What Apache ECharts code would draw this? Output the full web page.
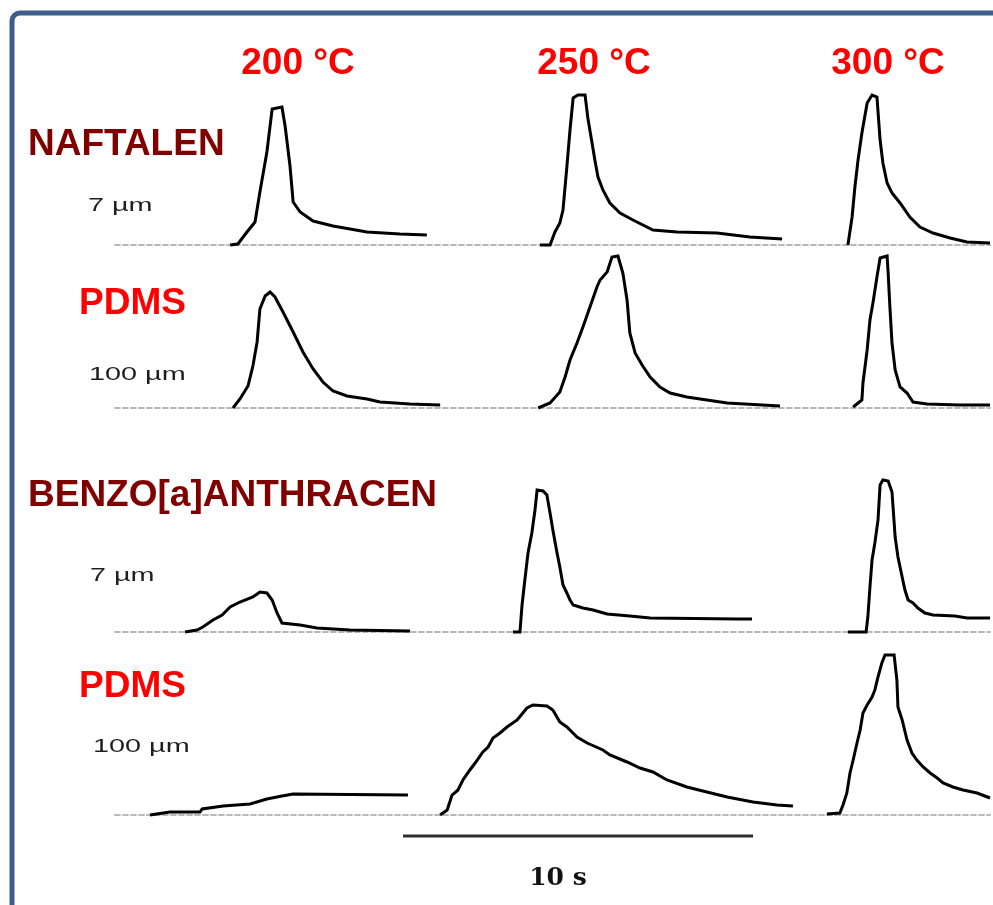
<!DOCTYPE html>
<html>
<head>
<meta charset="utf-8">
<script src="https://cdn.jsdelivr.net/npm/echarts@6/dist/echarts.min.js"></script>
<style>
  html, body { margin: 0; padding: 0; background: #ffffff; }
  #chart { width: 993px; height: 905px; }
</style>
</head>
<body>
<div id="chart"></div>
<script>
// Desorption peaks: time [s] vs. detector signal (relative units), one trace per temperature.
const temperatures = ['200 °C', '250 °C', '300 °C'];
const compounds = ['NAFTALEN', 'BENZO[a]ANTHRACEN'];
const fibres = ['PDMS', 'PDMS'];
const coatings = ['7 µm', '100 µm', '7 µm', '100 µm'];
const scaleBar = [8.23, 18.23];
const scaleBarLabel = '10 s';

// NAFTALEN, 7 µm fibre
const naftalen7um200 = [[3.29,0],[3.51,1],[3.77,13],[4.00,23],[4.14,53],[4.34,93],[4.49,136],[4.54,138],[4.77,138],[4.86,119],[5.00,79],[5.09,43],[5.29,33],[5.66,24],[6.23,19],[7.20,13],[8.14,11],[8.91,10]];
const naftalen7um250 = [[12.14,0],[12.43,0],[12.57,13],[12.71,22],[12.80,35],[12.91,78],[13.00,115],[13.09,147],[13.23,150],[13.43,150],[13.51,127],[13.63,102],[13.71,85],[13.80,68],[13.94,55],[14.14,42],[14.43,32],[14.80,25],[15.37,15],[16.06,13],[17.20,12],[18.14,8],[19.06,6]];
const naftalen7um300 = [[20.94,0],[21.06,28],[21.14,58],[21.23,85],[21.34,112],[21.49,142],[21.63,150],[21.77,148],[21.86,105],[21.94,82],[22.06,62],[22.20,52],[22.43,42],[22.71,28],[23.00,18],[23.37,12],[23.86,7],[24.34,3],[25.00,2]];

// NAFTALEN, 100 µm PDMS fibre
const naftalen100um200 = [[3.37,0],[3.57,9],[3.80,22],[3.94,42],[4.06,66],[4.14,99],[4.29,112],[4.43,116],[4.57,111],[4.80,96],[5.09,76],[5.37,56],[5.66,39],[5.94,26],[6.23,17],[6.63,12],[7.20,9],[7.57,6],[8.43,4],[9.29,3]];
const naftalen100um250 = [[12.09,0],[12.43,5],[12.71,16],[12.86,31],[13.00,48],[13.20,65],[13.37,81],[13.57,101],[13.77,121],[13.86,128],[14.06,136],[14.20,151],[14.37,152],[14.51,135],[14.63,108],[14.71,75],[14.86,55],[15.06,43],[15.29,31],[15.57,21],[15.86,15],[16.34,11],[16.91,8],[17.49,5],[19.00,2]];
const naftalen100um300 = [[21.09,1],[21.34,8],[21.37,25],[21.49,58],[21.57,88],[21.66,106],[21.77,131],[21.86,150],[22.06,152],[22.09,135],[22.14,101],[22.20,65],[22.29,38],[22.43,21],[22.63,15],[22.80,6],[23.20,4],[24.14,3],[25.00,3]];

// BENZO[a]ANTHRACEN, 7 µm fibre
const benzo7um200 = [[2.00,0],[2.34,2],[2.51,5],[2.80,12],[3.06,17],[3.29,25],[3.57,30],[3.94,35],[4.14,40],[4.34,39],[4.49,32],[4.63,19],[4.77,9],[5.29,7],[5.77,4],[6.71,2],[8.43,1]];
const benzo7um250 = [[11.37,0],[11.57,0],[11.63,27],[11.71,52],[11.80,79],[11.91,99],[12.00,122],[12.06,142],[12.23,141],[12.34,137],[12.43,119],[12.51,102],[12.63,79],[12.71,65],[12.80,47],[12.91,39],[13.00,32],[13.09,27],[13.37,24],[13.66,22],[14.06,18],[14.71,16],[15.29,14],[17.77,13],[18.20,13]];
const benzo7um300 = [[20.94,0],[21.46,0],[21.51,15],[21.57,45],[21.63,72],[21.71,89],[21.80,112],[21.86,147],[21.94,152],[22.09,151],[22.20,140],[22.29,95],[22.37,75],[22.49,55],[22.57,42],[22.66,32],[22.80,29],[22.94,24],[23.14,19],[23.37,17],[24.00,16],[24.34,14],[25.00,14]];

// BENZO[a]ANTHRACEN, 100 µm PDMS fibre
const benzo100um200 = [[1.00,0],[1.57,3],[2.43,3],[2.49,6],[3.09,9],[3.86,11],[3.91,13],[4.34,16],[4.77,19],[5.09,21],[8.37,20]];
const benzo100um250 = [[9.29,0],[9.49,5],[9.63,20],[9.80,25],[9.94,35],[10.14,45],[10.29,52],[10.51,63],[10.66,68],[10.80,77],[11.00,82],[11.20,88],[11.49,95],[11.77,107],[11.94,110],[12.34,109],[12.51,105],[12.71,93],[12.91,88],[13.20,78],[13.49,72],[13.94,65],[14.14,60],[14.63,53],[15.00,47],[15.37,43],[15.77,35],[16.34,28],[16.91,23],[17.49,18],[18.23,13],[18.91,10],[19.37,9]];
const benzo100um300 = [[20.34,1],[20.71,2],[20.80,10],[20.91,22],[21.00,42],[21.09,55],[21.20,72],[21.29,85],[21.37,102],[21.49,110],[21.63,118],[21.71,125],[21.80,138],[21.91,152],[22.00,160],[22.26,160],[22.34,135],[22.37,108],[22.49,95],[22.63,75],[22.77,62],[22.91,55],[23.09,48],[23.29,42],[23.49,37],[23.66,32],[23.94,28],[24.23,25],[24.63,22],[25.00,17]];

const rows = [
  { base: 245, traces: [naftalen7um200, naftalen7um250, naftalen7um300] },
  { base: 408, traces: [naftalen100um200, naftalen100um250, naftalen100um300] },
  { base: 632, traces: [benzo7um200, benzo7um250, benzo7um300] },
  { base: 815, traces: [benzo100um200, benzo100um250, benzo100um300] }
];

const TIME_MAX = 25;
const ROW_H = 180;
const PLOT_LEFT = 115;
const PLOT_RIGHT = 3;

const grids = [];
const xAxes = [];
const yAxes = [];
const series = [];

rows.forEach((row, i) => {
  grids.push({ left: PLOT_LEFT, right: PLOT_RIGHT, top: row.base - ROW_H, height: ROW_H });
  xAxes.push({
    type: 'value', gridIndex: i, min: 0, max: TIME_MAX,
    axisLine: { show: true, onZero: false, lineStyle: { color: '#b8b8b8', width: 2, type: [5, 3] } },
    axisTick: { show: false }, axisLabel: { show: false }, splitLine: { show: false }
  });
  yAxes.push({ type: 'value', gridIndex: i, min: 0, max: ROW_H, show: false, splitLine: { show: false } });
  row.traces.forEach(trace => {
    series.push({
      type: 'line', xAxisIndex: i, yAxisIndex: i, data: trace,
      symbol: 'none', clip: false, smooth: false, z: 3,
      lineStyle: { color: '#000000', width: 3, join: 'miter' }
    });
  });
});

// time scale bar under the last row
const sbIndex = rows.length;
grids.push({ left: PLOT_LEFT, right: PLOT_RIGHT, top: 826, height: 20 });
xAxes.push({ type: 'value', gridIndex: sbIndex, min: 0, max: TIME_MAX, show: false });
yAxes.push({ type: 'value', gridIndex: sbIndex, min: -1, max: 1, show: false });
series.push({
  type: 'line', xAxisIndex: sbIndex, yAxisIndex: sbIndex,
  data: [[scaleBar[0], 0], [scaleBar[1], 0]],
  symbol: 'none', clip: false, lineStyle: { color: '#2e2e2e', width: 3 }
});

const boldSans = 'bold 37px "Liberation Sans", Arial, sans-serif';
const smallSans = '18px "Liberation Sans", Arial, sans-serif';

const graphic = [
  {
    type: 'rect', z: 0, silent: true,
    shape: { x: 12, y: 13, width: 1100, height: 1100, r: 8 },
    style: { fill: 'none', stroke: '#3d5d8a', lineWidth: 5 }
  },
  ...temperatures.map((t, i) => ({
    type: 'text', x: [298, 594, 888][i], y: 64,
    style: { text: t, font: boldSans, fill: '#ff0000', align: 'center', verticalAlign: 'middle' }
  })),
  { type: 'text', x: 28, y: 145, style: { text: compounds[0], font: boldSans, fill: '#800000', align: 'left', verticalAlign: 'middle' } },
  { type: 'text', x: 28, y: 496, style: { text: compounds[1], font: boldSans, fill: '#800000', align: 'left', verticalAlign: 'middle' } },
  { type: 'text', x: 79, y: 304, style: { text: fibres[0], font: boldSans, fill: '#ff0000', align: 'left', verticalAlign: 'middle' } },
  { type: 'text', x: 79, y: 687, style: { text: fibres[1], font: boldSans, fill: '#ff0000', align: 'left', verticalAlign: 'middle' } },
  ...coatings.map((c, i) => ({
    type: 'text', x: [88, 89, 90, 93][i], y: [206, 375, 576, 747][i], scaleX: 1.6,
    style: { text: c, font: smallSans, fill: '#1e1e1e', align: 'left', verticalAlign: 'middle' }
  })),
  {
    type: 'text', x: 558, y: 878,
    style: { text: scaleBarLabel, font: 'bold 25px "DejaVu Serif", serif', fill: '#111111', align: 'center', verticalAlign: 'middle' }
  }
];

const chart = echarts.init(document.getElementById('chart'), null, { renderer: 'canvas' });
chart.setOption({
  animation: false,
  backgroundColor: '#ffffff',
  grid: grids,
  xAxis: xAxes,
  yAxis: yAxes,
  series: series,
  graphic: graphic
});
</script>
</body>
</html>
